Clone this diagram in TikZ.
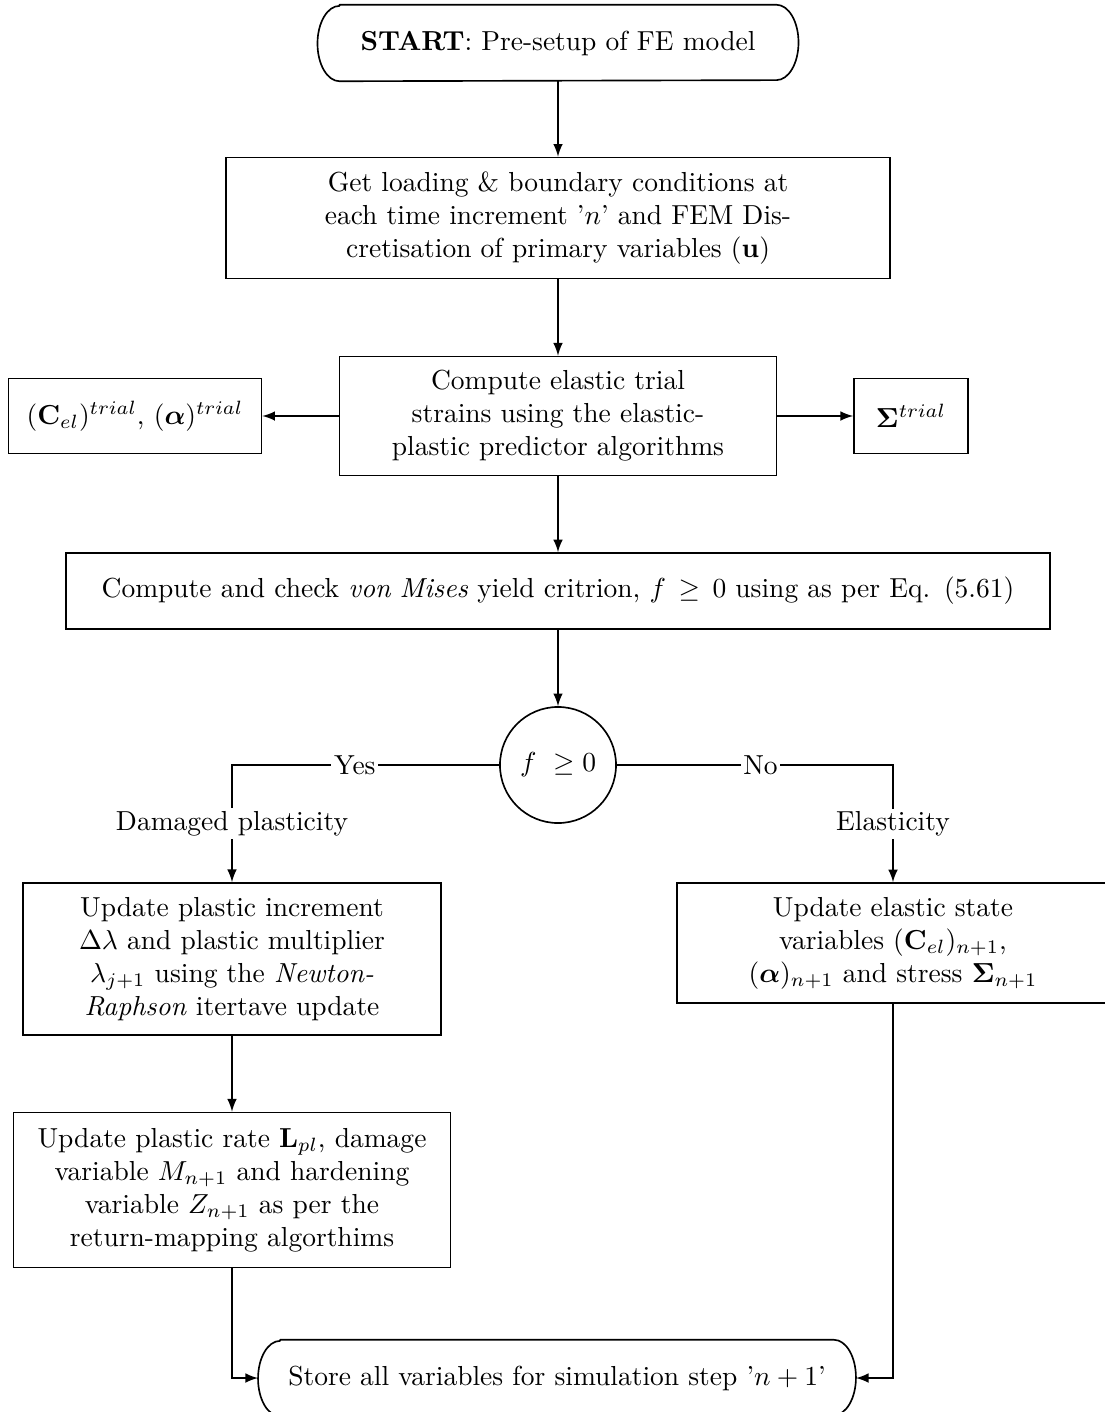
\documentclass[tikz,border=0pt]{standalone}
\usepackage{amsmath}
\usepackage{amssymb}
\usepackage{bm}
\usetikzlibrary{arrows}

\begin{document}
\begin{tikzpicture}[x=0.3636pt, y=-0.3636pt,
  process/.style={draw, semithick, rectangle, align=center, inner sep=0pt},
  terminal/.style={rectangle, inner sep=0pt, minimum height=27.4pt},
  decision/.style={draw, semithick, circle, inner sep=0pt, minimum size=42.2pt},
  branch/.style={fill=white, inner sep=1pt},
  flow/.style={semithick, -latex}]
\def\midx{558}
\def\leftx{232}
\def\rightx{893}
\def\endrx{8pt}
\def\endry{13.7pt}
\def\terminaloutline#1{\draw[semithick, line join=round] ([xshift=\endrx]#1.north west) -- ([xshift=-\endrx]#1.north east)
  arc[start angle=90, end angle=-90, x radius=\endrx, y radius=\endry] -- ([xshift=\endrx]#1.south west)
  arc[start angle=270, end angle=90, x radius=\endrx, y radius=\endry] -- cycle;}

\useasboundingbox (0,0) rectangle (1105,1412);

% MAIN COLUMN
\node[terminal, minimum width=174.5pt] (start) at (\midx,43) {\textbf{START}: Pre-setup of FE model};
\terminaloutline{start}
\node[process, text width=241.4pt, minimum height=44pt] (load) at (\midx,218) {Get loading \& boundary conditions at\\ each time increment '$n$' and FEM Dis-\\cretisation of primary variables ($\mathbf{u}$)};
\node[process, text width=158.9pt, minimum height=43.3pt] (trial) at (\midx,416) {Compute elastic trial\\ strains using the elastic-\\plastic predictor algorithms};
\node[process, text width=92pt, minimum height=27.3pt] (trialleft) at (135,416) {$(\mathbf{C}_{el})^{trial}$, $(\bm{\alpha})^{trial}$};
\node[process, text width=41.5pt, minimum height=27.3pt] (trialright) at (911,416) {$\bm{\Sigma}^{trial}$};
\node[process, text width=357.8pt, minimum height=27.6pt] (yield) at (\midx,591) {Compute and check \textit{von Mises} yield critrion, $f \geq 0$ using as per Eq. (5.61)};
\node[decision] (check) at (\midx,765) {$f\ \geq 0$};

% PLASTIC BRANCH
\node[process, text width=152pt, minimum height=55.3pt] (plasticinc) at (\leftx,959) {Update plastic increment\\ $\Delta\lambda$ and plastic multiplier\\ $\lambda_{j+1}$ using the \textit{Newton-}\\\textit{Raphson} itertave update};
\node[process, text width=159pt, minimum height=56.4pt] (plasticrate) at (\leftx,1190) {Update plastic rate $\mathbf{L}_{pl}$, damage\\ variable $M_{n+1}$ and hardening\\ variable $Z_{n+1}$ as per the\\ return-mapping algorthims};

% ELASTIC BRANCH
\node[process, text width=157pt, minimum height=43.6pt] (elasticupd) at (\rightx,943) {Update elastic state\\ variables $(\mathbf{C}_{el})_{n+1}$,\\ $(\bm{\alpha})_{n+1}$ and stress $\bm{\Sigma}_{n+1}$};

% END
\node[terminal, minimum width=217pt] (store) at (557,1378) {Store all variables for simulation step '$n+1$'};
\terminaloutline{store}

\draw[flow] (start) -- (load);
\draw[flow] (load) -- (trial);
\draw[flow] (trial) -- (trialleft);
\draw[flow] (trial) -- (trialright);
\draw[flow] (trial) -- (yield);
\draw[flow] (yield) -- (check);
\draw[flow] (check.west) -| node[branch, pos=0.27] (yes) {Yes} node[branch, pos=0.75] (plastic) {Damaged plasticity} (plasticinc.north);
\draw[flow] (check.east) -| node[branch, pos=0.26] (no) {No} node[branch, pos=0.75] (elastic) {Elasticity} (elasticupd.north);
\draw[flow] (plasticinc) -- (plasticrate);
\draw[flow] (plasticrate.south) |- (store.west);
\draw[flow] (elasticupd.south) |- (store.east);
\end{tikzpicture}
\end{document}
